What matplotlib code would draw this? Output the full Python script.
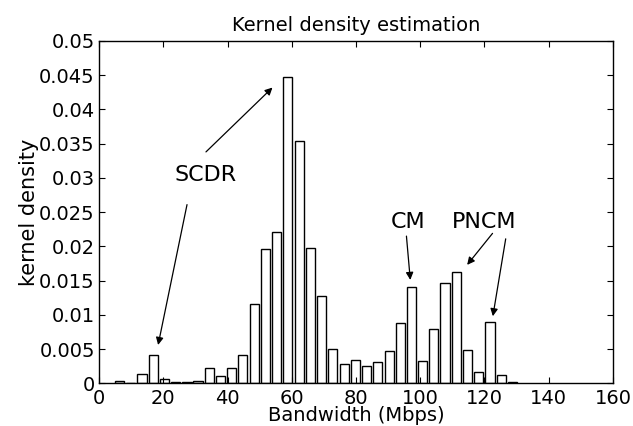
import matplotlib
matplotlib.use("Agg")
import matplotlib.pyplot as plt
from matplotlib.ticker import FuncFormatter, MultipleLocator

# bin centres (Mbps) and kernel density values
BANDWIDTH = [6.4, 9.9, 13.4, 16.9, 20.4, 23.9, 27.4, 30.8, 34.3, 37.8,
             41.3, 44.8, 48.3, 51.8, 55.3, 58.8, 62.3, 65.8, 69.3, 72.8,
             76.3, 79.8, 83.3, 86.8, 90.3, 93.8, 97.3, 100.7, 104.2, 107.7,
             111.2, 114.7, 118.2, 121.7, 125.2, 128.7]
DENSITY = [0.00038, 0.0, 0.00136, 0.0042, 0.00058, 0.0002, 0.00023, 0.00034,
           0.0022, 0.001, 0.00224, 0.0041, 0.0116, 0.0196, 0.0221, 0.0448,
           0.0354, 0.0198, 0.0127, 0.005, 0.0028, 0.0034, 0.0026, 0.0031,
           0.0047, 0.0088, 0.014, 0.0032, 0.008, 0.0146, 0.0162, 0.0048,
           0.0017, 0.009, 0.0012, 0.00025]

# annotation labels, where they sit, and the arrows that start near them
LABELS = ["SCDR", "CM", "PNCM"]
LABEL_POS = [(33.2, 0.0304), (96.1, 0.0235), (119.8, 0.0235)]
ARROW_TAILS = [[(27.4, 0.0261), (33.3, 0.0338)],
               [(95.7, 0.0215)],
               [(122.5, 0.0219), (126.6, 0.0211)]]
ARROW_TIPS = [[(18.4, 0.0056), (54.0, 0.0432)],
              [(96.9, 0.0151)],
              [(114.6, 0.0173), (122.6, 0.0098)]]

plt.rcParams["font.family"] = "DejaVu Sans"

fig = plt.figure(figsize=(6.33, 4.26), dpi=100)
ax = fig.add_axes([0.1564, 0.1002, 0.8120, 0.8036])

ax.bar(BANDWIDTH, DENSITY, width=2.85, color="white", edgecolor="black",
       linewidth=1.0)

for label, pos, tails, tips in zip(LABELS, LABEL_POS, ARROW_TAILS, ARROW_TIPS):
    ax.text(pos[0], pos[1], label, ha="center", va="center", fontsize=16)
    for tail, tip in zip(tails, tips):
        ax.annotate("", xy=tip, xytext=tail,
                    arrowprops=dict(arrowstyle="-|>", color="black", lw=0.9,
                                    mutation_scale=11, shrinkA=0, shrinkB=0))

ax.set_xlim(0, 160)
ax.set_ylim(0, 0.05)
ax.xaxis.set_major_locator(MultipleLocator(20))
ax.yaxis.set_major_locator(MultipleLocator(0.005))
ax.yaxis.set_major_formatter(FuncFormatter(lambda v, _: f"{v:g}"))
ax.tick_params(direction="in", top=True, right=True, labelsize=14,
               length=4, width=0.8)
ax.tick_params(axis="x", pad=4)
ax.tick_params(axis="y", pad=3)
for s in ax.spines.values():
    s.set_linewidth(1.0)

ax.set_title("Kernel density estimation", fontsize=14, pad=7)
ax.set_xlabel("Bandwidth (Mbps)", fontsize=14, labelpad=-1)
ax.set_ylabel("kernel density", fontsize=15, labelpad=0)

fig.savefig("out.png", dpi=100)
